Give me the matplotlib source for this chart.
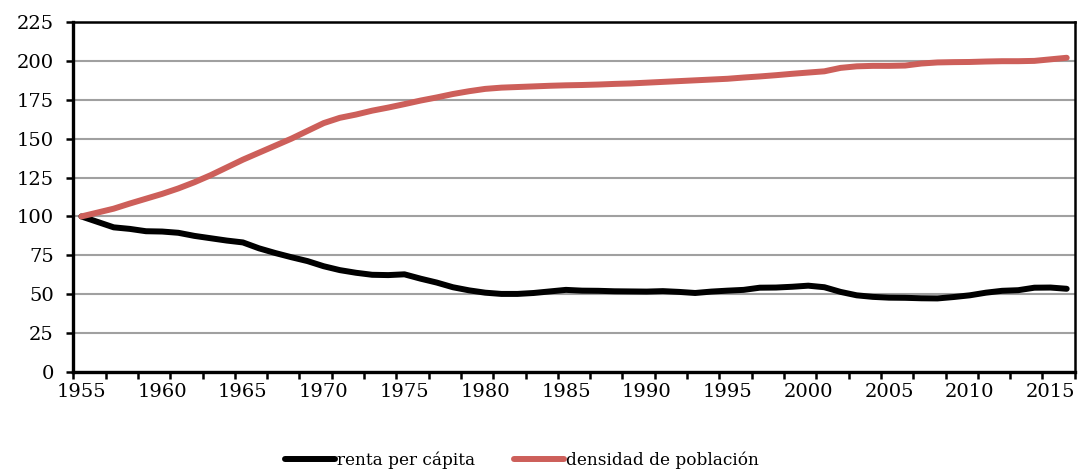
import matplotlib.pyplot as plt
import numpy as np

plt.rcParams['font.family'] = ['DejaVu Serif']

years = list(range(1955, 2017))

# renta per cápita (índice 1955 = 100)
renta = [100, 96.5, 93, 92, 90.5, 90.3, 89.5, 87.5, 86, 84.5,
         83.3, 79.5, 76.5, 73.8, 71.3, 68, 65.5, 63.8, 62.5, 62.3,
         62.8, 60, 57.5, 54.5, 52.5, 51, 50.2, 50.2, 50.8, 51.8,
         52.8, 52.3, 52.2, 51.9, 51.8, 51.7, 52, 51.5, 50.8, 51.7,
         52.3, 52.8, 54.2, 54.3, 54.8, 55.5, 54.5, 51.5, 49.3, 48.3,
         47.8, 47.7, 47.4, 47.3, 48.2, 49.3, 51, 52.2, 52.6, 54.2,
         54.3, 53.5]

# densidad de población (índice 1955 = 100)
densidad = [100, 102.5, 105, 108.3, 111.4, 114.5, 118, 122, 126.5, 131.5,
            136.5, 141, 145.5, 150, 155, 160, 163.4, 165.5, 168, 170,
            172.2, 174.5, 176.5, 178.7, 180.5, 182, 182.8, 183.2, 183.6, 184,
            184.3, 184.5, 184.8, 185.2, 185.5, 186, 186.5, 187, 187.5, 188,
            188.5, 189.3, 190, 190.8, 191.7, 192.5, 193.3, 195.5, 196.5, 196.8,
            196.8, 197, 198.3, 199, 199.2, 199.3, 199.6, 199.8, 199.8, 200,
            201, 202]

label_years = [1955, 1960, 1965, 1970, 1975, 1980, 1985, 1990, 1995, 2000, 2005, 2010, 2015]
y_ticks = [0, 25, 50, 75, 100, 125, 150, 175, 200, 225]

fig = plt.figure(figsize=(10.78, 4.73), dpi=100)
ax = fig.add_axes([0.068, 0.2135, 0.929, 0.74])

ax.plot(years, renta, color='black', linewidth=4.3, solid_capstyle='round',
        label='renta per cápita')
ax.plot(years, densidad, color='#cd5f5a', linewidth=4.3, solid_capstyle='round',
        label='densidad de población')

ax.set_xlim(1954.5, 2016.5)
ax.set_ylim(0, 225)
ax.set_yticks(y_ticks)
ax.set_xticks(label_years)
ax.set_xticks(np.arange(1954.5, 2016.6, 2), minor=True)
ax.tick_params(axis='x', which='major', length=0, pad=8, labelsize=14)
ax.tick_params(axis='x', which='minor', length=5, width=1.8, direction='out')
ax.tick_params(axis='y', length=5, width=1.8, labelsize=14, pad=9)

ax.yaxis.grid(True, color='#a0a0a0', linewidth=1.5)
ax.set_axisbelow(True)
for s in ['left', 'bottom']:
    ax.spines[s].set_linewidth(2.4)
for s in ['top', 'right']:
    ax.spines[s].set_linewidth(1.8)

ax.legend(loc='center', bbox_to_anchor=(0.484, 0.027), bbox_transform=fig.transFigure,
          ncol=2, frameon=False, fontsize=12.2, handlelength=2.95, handletextpad=0.12,
          columnspacing=2.3)

fig.savefig('out.png', dpi=100)
